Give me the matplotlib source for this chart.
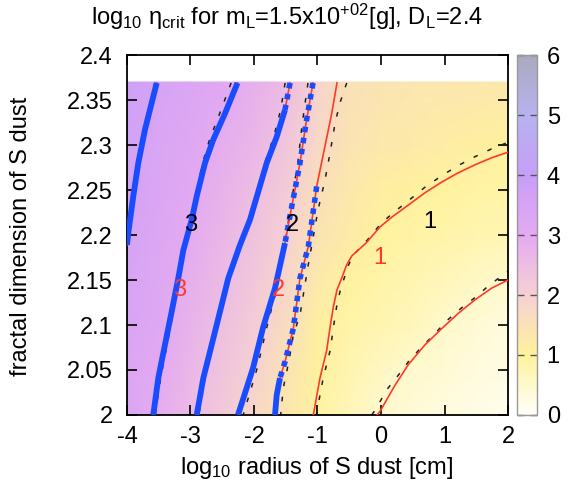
#!/usr/bin/python
# log10 eta_crit map over (log10 radius, fractal dimension) of S dust
import matplotlib
matplotlib.use("Agg")
import matplotlib.pyplot as plt
import numpy as np
from matplotlib.colors import LinearSegmentedColormap, Normalize
from matplotlib.cm import ScalarMappable

#################################
# Data
#################################
# background map: log10 eta_crit on a coarse grid
grid_x = [-4.0, -3.5, -3.0, -2.5, -2.0, -1.5, -1.0, -0.5, 0.0, 0.5, 1.0, 1.5, 2.0]
grid_y = [2.0, 2.05, 2.1, 2.15, 2.2, 2.25, 2.3, 2.37]
grid_z = [
    [3.30, 2.95, 2.57, 2.20, 1.80, 1.35, 0.95, 0.70, 0.47, 0.38, 0.30, 0.22, 0.15],
    [3.30, 3.02, 2.67, 2.32, 1.98, 1.45, 1.05, 0.82, 0.60, 0.47, 0.40, 0.32, 0.25],
    [3.40, 3.12, 2.75, 2.42, 2.10, 1.65, 1.10, 0.88, 0.78, 0.66, 0.50, 0.40, 0.32],
    [3.45, 3.20, 2.87, 2.55, 2.23, 1.85, 1.28, 0.97, 0.87, 0.78, 0.68, 0.58, 0.50],
    [3.50, 3.25, 2.97, 2.68, 2.37, 2.00, 1.45, 1.20, 0.97, 0.90, 0.85, 0.80, 0.75],
    [3.55, 3.30, 3.06, 2.78, 2.47, 2.15, 1.55, 1.30, 1.12, 1.04, 0.97, 0.93, 0.90],
    [3.62, 3.35, 3.15, 2.90, 2.65, 2.25, 1.75, 1.42, 1.30, 1.22, 1.15, 1.10, 1.05],
    [3.75, 3.48, 3.29, 3.10, 2.84, 2.54, 1.92, 1.50, 1.42, 1.38, 1.35, 1.32, 1.30],
]

# red contours (levels 3.5, 3, 2.5, 2, 1.5, 1, 0.5)
red_A_x = [-3.532, -3.717, -3.822, -3.901, -3.980, -4.0]
red_A_y = [2.369, 2.317, 2.280, 2.243, 2.202, 2.189]
red_B_x = [-2.26, -2.457, -2.641, -2.772, -2.902, -2.981, -3.113, -3.192, -3.296, -3.402, -3.507, -3.586]
red_B_y = [2.369, 2.335, 2.306, 2.280, 2.243, 2.217, 2.183, 2.152, 2.115, 2.078, 2.041, 2.0]
red_C_x = [-1.433, -1.512, -1.643, -1.800, -2.063, -2.220, -2.405, -2.535, -2.666, -2.798, -2.902]
red_C_y = [2.369, 2.339, 2.309, 2.280, 2.217, 2.189, 2.152, 2.115, 2.078, 2.041, 2.0]
red_D_x = [-1.071, -1.181, -1.276, -1.402, -1.512, -1.669, -1.858, -2.016, -2.252]
red_D_y = [2.369, 2.324, 2.280, 2.233, 2.191, 2.141, 2.097, 2.052, 2.0]
red_E_x = [-0.693, -0.776, -1.013, -1.145, -1.276, -1.381, -1.512, -1.591, -1.643, -1.669]
red_E_y = [2.369, 2.335, 2.254, 2.187, 2.152, 2.096, 2.059, 2.041, 2.022, 2.0]
red_F_x = [-1.066, -0.961, -0.855, -0.803, -0.751, -0.693, -0.619, -0.540, -0.457, -0.362,
           -0.236, -0.016, 0.173, 0.425, 0.693, 0.961, 1.213, 1.480, 1.748, 2.0]
red_F_y = [2.0, 2.041, 2.072, 2.097, 2.12, 2.139, 2.152, 2.167, 2.177, 2.183,
           2.191, 2.209, 2.22, 2.233, 2.247, 2.259, 2.269, 2.278, 2.286, 2.292]
red_G_x = [-0.063, -0.016, 0.220, 0.430, 0.693, 0.956, 1.217, 1.480, 1.743, 2.0]
red_G_y = [2.0, 2.004, 2.033, 2.056, 2.078, 2.096, 2.113, 2.128, 2.141, 2.150]

# black dashed contours (same levels, second model)
blk_A_x = [-3.56, -3.74, -3.84, -3.91, -3.985, -4.0]
blk_A_y = [2.369, 2.317, 2.280, 2.243, 2.205, 2.196]
blk_B_x = [-2.36, -2.54, -2.70, -2.81, -2.92, -2.985, -3.10, -3.17, -3.27, -3.37, -3.47, -3.555]
blk_B_y = [2.369, 2.335, 2.306, 2.280, 2.243, 2.217, 2.183, 2.152, 2.115, 2.078, 2.041, 2.0]
blk_C_x = [-1.51, -1.58, -1.69, -1.83, -2.08, -2.22, -2.39, -2.51, -2.64, -2.77, -2.87]
blk_C_y = [2.369, 2.339, 2.309, 2.280, 2.217, 2.189, 2.152, 2.115, 2.078, 2.041, 2.0]
blk_D_x = [-1.15, -1.24, -1.31, -1.42, -1.51, -1.64, -1.80, -1.95, -2.17]
blk_D_y = [2.369, 2.324, 2.280, 2.233, 2.191, 2.141, 2.097, 2.052, 2.0]
blk_E_x = [-0.54, -0.646, -0.724, -0.803, -0.882, -0.992, -1.039, -1.15, -1.276, -1.381,
           -1.433, -1.485, -1.539, -1.58]
blk_E_y = [2.369, 2.347, 2.324, 2.291, 2.261, 2.228, 2.209, 2.165, 2.111, 2.089,
           2.067, 2.048, 2.030, 2.0]
blk_F_x = [-1.02, -0.91, -0.80, -0.75, -0.70, -0.64, -0.58, -0.51, -0.43, -0.34,
           -0.22, -0.01, 0.18, 0.43, 0.69, 0.96, 1.21, 1.48, 1.75, 2.0]
blk_F_y = [2.0, 2.041, 2.072, 2.097, 2.12, 2.139, 2.152, 2.167, 2.178, 2.185,
           2.194, 2.212, 2.224, 2.238, 2.253, 2.266, 2.277, 2.287, 2.296, 2.303]
blk_G_x = [-0.146, -0.07, 0.09, 0.27, 0.44, 0.62, 0.83, 1.04, 1.25, 1.49, 1.70, 1.91, 2.0]
blk_G_y = [2.0, 2.008, 2.028, 2.044, 2.060, 2.074, 2.089, 2.105, 2.118, 2.131, 2.144, 2.155, 2.160]

# blue overlay: which contour, y range, style
blue_parts = [
    ("A", 2.0, 2.40, "solid"),
    ("B", 2.0, 2.40, "solid"),
    ("C", 2.0, 2.339, "solid"),
    ("C", 2.339, 2.40, "dotted"),
    ("D", 2.0, 2.191, "solid"),
    ("D", 2.191, 2.40, "dotted"),
    ("E", 2.0, 2.041, "solid"),
    ("E", 2.041, 2.254, "dotted"),
]

# contour labels
black_labels = ["3", "2", "1"]
black_label_x = [-2.99, -1.40, 0.77]
black_label_y = [2.211, 2.211, 2.214]
red_labels = ["3", "2", "1"]
red_label_x = [-3.165, -1.622, -0.016]
red_label_y = [2.139, 2.139, 2.174]

x_ticks = [-4, -3, -2, -1, 0, 1, 2]
y_ticks = [2.0, 2.05, 2.1, 2.15, 2.2, 2.25, 2.3, 2.35, 2.4]
y_tick_labels = ["2", "2.05", "2.1", "2.15", "2.2", "2.25", "2.3", "2.35", "2.4"]
cb_ticks = [0, 1, 2, 3, 4, 5, 6]

#################################
# Style
#################################
plt.rcParams["font.family"] = ["Liberation Sans", "DejaVu Sans"]
plt.rcParams["mathtext.fontset"] = "custom"
plt.rcParams["mathtext.rm"] = "Liberation Sans"
plt.rcParams["mathtext.it"] = "Liberation Sans"
plt.rcParams["mathtext.default"] = "regular"
plt.rcParams["axes.unicode_minus"] = False

palette = LinearSegmentedColormap.from_list("gp", [
    (0 / 6, "#fffffa"),
    (1 / 6, "#fff29c"),
    (2 / 6, "#f6d0d4"),
    (3 / 6, "#e4aaf2"),
    (4 / 6, "#c79ef8"),
    (5 / 6, "#b7b2f0"),
    (6 / 6, "#aaaabe"),
])
norm = Normalize(0, 6)

RED = "#ff3a2a"
BLUE = "#1a4cff"
FS = 17

#################################
# Plot
#################################
fig = plt.figure(figsize=(5.73, 4.97), dpi=100)
ax = fig.add_axes([0.2216, 0.165, 0.665, 0.7243])
cax = fig.add_axes([0.9023, 0.165, 0.0349, 0.7243])

ax.pcolormesh(np.array(grid_x), np.array(grid_y), np.array(grid_z),
              cmap=palette, norm=norm, shading="gouraud", zorder=0)

red = {"A": (red_A_x, red_A_y), "B": (red_B_x, red_B_y), "C": (red_C_x, red_C_y),
       "D": (red_D_x, red_D_y), "E": (red_E_x, red_E_y), "F": (red_F_x, red_F_y),
       "G": (red_G_x, red_G_y)}
blk = {"A": (blk_A_x, blk_A_y), "B": (blk_B_x, blk_B_y), "C": (blk_C_x, blk_C_y),
       "D": (blk_D_x, blk_D_y), "E": (blk_E_x, blk_E_y), "F": (blk_F_x, blk_F_y),
       "G": (blk_G_x, blk_G_y)}

for k in blk:
    ax.plot(blk[k][0], blk[k][1], color="#202020", lw=1.1,
            dashes=(3.0, 7), zorder=2)
for k in red:
    ax.plot(red[k][0], red[k][1], color=RED, lw=1.2, zorder=3)

for name, ylo, yhi, style in blue_parts:
    xs = np.array(red[name][0])
    ys = np.array(red[name][1])
    m = (ys >= ylo - 1e-9) & (ys <= yhi + 1e-9)
    if style == "solid":
        ax.plot(xs[m], ys[m], color=BLUE, lw=4.2, solid_capstyle="butt", zorder=4)
    else:
        ax.plot(xs[m], ys[m], color=BLUE, lw=4.0, linestyle=(0, (1.0, 1.0)),
                dash_capstyle="butt", zorder=4)

for t, x, y in zip(black_labels, black_label_x, black_label_y):
    ax.text(x, y, t, color="black", fontsize=FS, ha="center", va="center", zorder=5)
for t, x, y in zip(red_labels, red_label_x, red_label_y):
    ax.text(x, y, t, color=RED, fontsize=FS, ha="center", va="center", zorder=5)

ax.set_xlim(-4, 2)
ax.set_ylim(2.0, 2.4)
ax.set_xticks(x_ticks)
ax.set_xticklabels([str(v) for v in x_ticks])
ax.set_yticks(y_ticks)
ax.set_yticklabels(y_tick_labels)
ax.tick_params(direction="in", length=7, width=1.2, top=True, right=True,
               labelsize=FS)
ax.tick_params(axis="y", pad=10)
ax.tick_params(axis="x", pad=8)
for s in ax.spines.values():
    s.set_linewidth(1.3)

fig.text(0.553, 0.058, "log$_{10}$ radius of S dust [cm]", fontsize=FS,
         ha="center", va="center")
fig.text(0.036, 0.525, "fractal dimension of S dust", fontsize=FS,
         rotation=90, ha="center", va="center")
fig.text(0.5, 0.966, "log$_{10}$ \u03b7$_{crit}$ for m$_L$=1.5x10$^{+02}$[g], D$_L$=2.4",
         fontsize=FS, ha="center", va="center")

cb = fig.colorbar(ScalarMappable(norm=norm, cmap=palette), cax=cax)
cb.set_ticks(cb_ticks)
cb.outline.set_edgecolor("#999999")
cb.outline.set_linewidth(1.0)
cax.tick_params(direction="in", length=5, width=1.0, color="#555555",
                left=True, right=True, labelsize=FS, pad=7)

fig.savefig("out.png", dpi=100)
